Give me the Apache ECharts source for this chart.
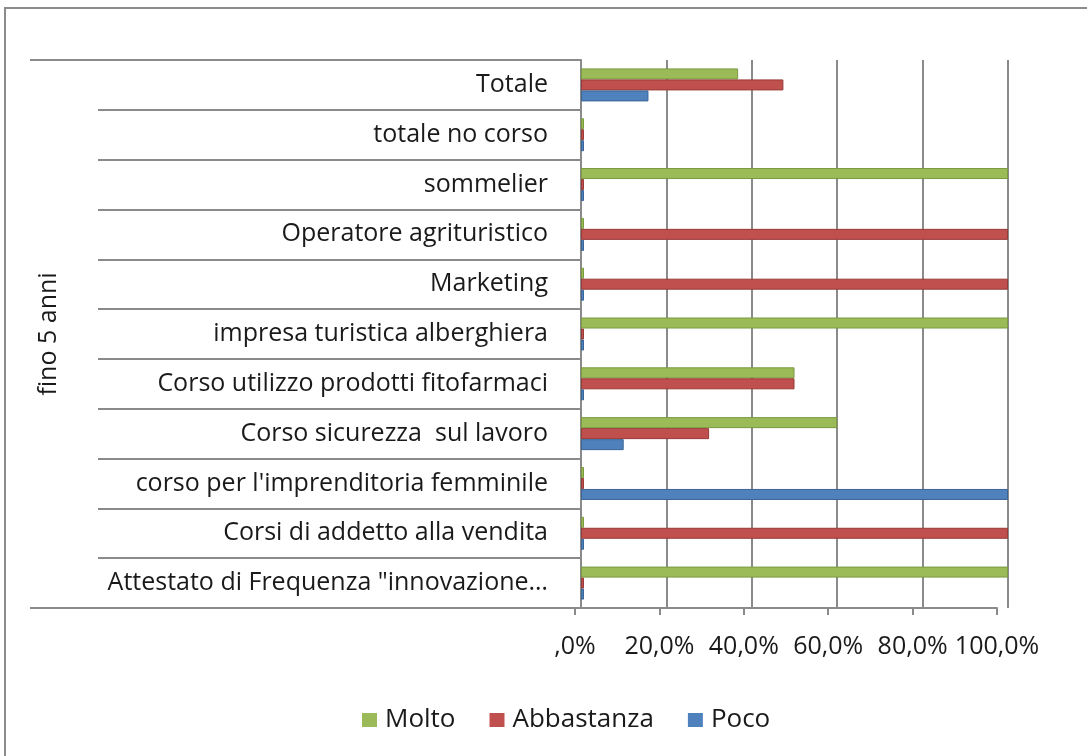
<!DOCTYPE html>
<html>
<head>
<meta charset="utf-8">
<script src="https://cdn.jsdelivr.net/npm/echarts@6/dist/echarts.min.js"></script>
<style>
  html, body { margin: 0; padding: 0; background: #fff; }
  #chart { width: 1087px; height: 756px; }
</style>
</head>
<body>
<div id="chart"></div>
<script>
const categories = [
  'Totale',
  'totale no corso',
  'sommelier',
  'Operatore agrituristico',
  'Marketing',
  'impresa turistica alberghiera',
  'Corso utilizzo prodotti fitofarmaci',
  'Corso sicurezza  sul lavoro',
  "corso per l'imprenditoria femminile",
  'Corsi di addetto alla vendita',
  'Attestato di Frequenza "innovazione…'
];
const groupLabel = ['fino 5 anni'];
const seriesNames = ['Molto', 'Abbastanza', 'Poco'];
const molto      = [36.8, 0, 100, 0, 0, 100, 50, 60, 0, 0, 100];
const abbastanza = [47.4, 0, 0, 100, 100, 0, 50, 30, 0, 100, 0];
const poco       = [15.8, 0, 0, 0, 0, 0, 0, 10, 100, 0, 0];
const tickLabels = [',0%', '20,0%', '40,0%', '60,0%', '80,0%', '100,0%'];

const font = '"Open Sans", "Noto Sans", sans-serif';
const lineGray = '#8a8a8a';
const textColor = '#1a1a1a';

const chart = echarts.init(document.getElementById('chart'));

function barSeries(name, data, color, edge) {
  return {
    name: name,
    type: 'bar',
    xAxisIndex: 0,
    yAxisIndex: 0,
    data: data,
    barWidth: 11,
    barGap: '0%',
    barMinHeight: 3,
    itemStyle: { color: color, borderColor: edge, borderWidth: 1 },
    emphasis: { disabled: true }
  };
}

chart.setOption({
  animation: false,
  textStyle: { fontFamily: font },
  graphic: [{
    type: 'rect',
    shape: { x: 5, y: 8, width: 1200, height: 900 },
    style: { fill: 'none', stroke: '#8c8c8c', lineWidth: 2 },
    silent: true
  }],
  grid: [
    { left: 581, right: 79, top: 60, bottom: 148, outerBoundsMode: 'none' },
    { left: 575, right: 90, top: 60, bottom: 148, outerBoundsMode: 'none' }
  ],
  legend: {
    data: seriesNames,
    left: 357,
    top: 702,
    icon: 'rect',
    itemWidth: 15,
    itemHeight: 14,
    itemGap: 34,
    itemStyle: { borderWidth: 0 },
    textStyle: { fontSize: 26, color: textColor, fontFamily: font, padding: [0, 0, 0, 3] }
  },
  xAxis: [
    {
      gridIndex: 0, type: 'value', min: 0, max: 100, interval: 20,
      axisLine: { show: false }, axisTick: { show: false }, axisLabel: { show: false },
      splitLine: { lineStyle: { color: lineGray, width: 2 } }
    },
    {
      gridIndex: 1, type: 'value', min: 0, max: 100, interval: 20,
      axisLine: { show: true, lineStyle: { color: lineGray, width: 2 } },
      axisTick: { show: true, length: 7, lineStyle: { color: lineGray, width: 2 } },
      splitLine: { show: false },
      axisLabel: {
        fontSize: 25, color: textColor, margin: 26,
        formatter: v => tickLabels[Math.round(v / 20)]
      }
    }
  ],
  yAxis: [
    {
      gridIndex: 0, type: 'category', data: categories, inverse: true, position: 'left',
      axisLine: { show: true, lineStyle: { color: lineGray, width: 2 } },
      axisTick: { show: true, interval: 0, length: 483, lineStyle: { color: lineGray, width: 2 } },
      axisLabel: { fontSize: 25, color: textColor, margin: 33, interval: 0 }
    },
    {
      gridIndex: 0, type: 'category', data: groupLabel, position: 'left',
      axisLine: { show: false },
      axisTick: { show: true, interval: 0, length: 551, lineStyle: { color: lineGray, width: 2 } },
      axisLabel: { fontSize: 25, color: textColor, rotate: 90, margin: 520 }
    },
    { gridIndex: 1, type: 'value', show: false }
  ],
  series: [
    barSeries('Molto', molto, '#9bbb59', '#7a9a3e'),
    barSeries('Abbastanza', abbastanza, '#c0504d', '#983a37'),
    barSeries('Poco', poco, '#4f81bd', '#3a6597')
  ]
});
</script>
</body>
</html>
